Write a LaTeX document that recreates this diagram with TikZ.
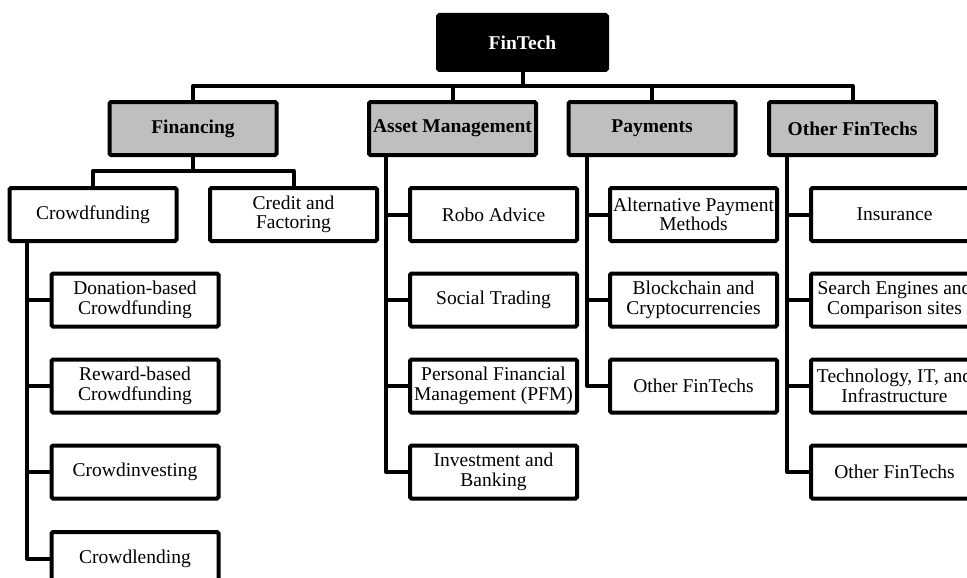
\documentclass[tikz,border=0pt]{standalone}
\usepackage{fontspec}
\setmainfont{Liberation Serif}
\begin{document}
\begin{tikzpicture}[x=1pt,y=-1pt,
  base/.style={draw=black,line width=4pt,rounded corners=1.5pt,inner sep=0pt,
    minimum width=167pt,minimum height=53pt,align=center,
    font=\fontsize{19.5}{19.5}\selectfont},
  topbox/.style={base,fill=black,text=white,minimum width=169pt,minimum height=55pt,
    font=\fontsize{19.5}{19.5}\selectfont\bfseries},
  catbox/.style={base,fill=catgrey,font=\fontsize{19.5}{19.5}\selectfont\bfseries},
  leafbox/.style={base,fill=white},
  conn/.style={draw=black,line width=4pt,line join=round}]
\definecolor{catgrey}{RGB}{191,191,191}
\useasboundingbox (0,0) rectangle (967,578);
\clip (0,0) rectangle (967,578);
% root
\node[topbox] (root) at (522.5,42.5) {FinTech};
% categories
\node[catbox] (fin) at (193,128.5) {Financing};
\node[catbox] (ast) at (452.5,128.5) {Asset Management};
\node[catbox] (pay) at (652,128.5) {Payments};
\node[catbox] (oth) at (852.5,128.5) {Other FinTechs};
% financing
\node[leafbox] (cf) at (93,214.5) {Crowdfunding};
\node[leafbox] (cr) at (293.5,214.5) {Credit and\\Factoring};
\node[leafbox] (don) at (135,300) {Donation-based\\Crowdfunding};
\node[leafbox] (rew) at (135,386) {Reward-based\\Crowdfunding};
\node[leafbox] (cinv) at (135,472) {Crowdinvesting};
\node[leafbox] (clend) at (135,558.5) {Crowdlending};
% asset management
\node[leafbox] (rob) at (493.5,214.5) {Robo Advice};
\node[leafbox] (soc) at (493.5,300) {Social Trading};
\node[leafbox] (pfm) at (493.5,386) {Personal Financial\\Management (PFM)};
\node[leafbox] (inv) at (493.5,472) {Investment and\\Banking};
% payments
\node[leafbox] (alt) at (693.5,214.5) {Alternative Payment\\Methods};
\node[leafbox] (blk) at (693.5,300) {Blockchain and\\Cryptocurrencies};
\node[leafbox] (pot) at (693.5,386) {Other FinTechs};
% other fintechs
\node[leafbox] (ins) at (894.5,214.5) {Insurance};
\node[leafbox] (sea) at (894.5,300) {Search Engines and\\Comparison sites};
\node[leafbox] (tec) at (894.5,386) {Technology, IT, and\\Infrastructure};
\node[leafbox] (ooth) at (894.5,472) {Other FinTechs};
% bus coordinates
\coordinate (bus) at (522.5,86);
\coordinate (finbus) at (193,171);
\coordinate (cftop) at (27,241);
\coordinate (asttop) at (386,155);
\coordinate (paytop) at (587,155);
\coordinate (othtop) at (787,155);
% connectors level 1
\draw[conn] (root.south) -- (bus);
\draw[conn] (fin.north) |- (bus) -| (oth.north);
\draw[conn] (ast.north) -- (ast.north |- bus);
\draw[conn] (pay.north) -- (pay.north |- bus);
% financing
\draw[conn] (fin.south) -- (finbus);
\draw[conn] (cf.north) |- (finbus) -| (cr.north);
% crowdfunding
\draw[conn] (cftop) |- (clend.west);
\draw[conn] (don.west) -- (don.west -| cftop);
\draw[conn] (rew.west) -- (rew.west -| cftop);
\draw[conn] (cinv.west) -- (cinv.west -| cftop);
% asset management
\draw[conn] (asttop) |- (inv.west);
\draw[conn] (rob.west) -- (rob.west -| asttop);
\draw[conn] (soc.west) -- (soc.west -| asttop);
\draw[conn] (pfm.west) -- (pfm.west -| asttop);
% payments
\draw[conn] (paytop) |- (pot.west);
\draw[conn] (alt.west) -- (alt.west -| paytop);
\draw[conn] (blk.west) -- (blk.west -| paytop);
% other
\draw[conn] (othtop) |- (ooth.west);
\draw[conn] (ins.west) -- (ins.west -| othtop);
\draw[conn] (sea.west) -- (sea.west -| othtop);
\draw[conn] (tec.west) -- (tec.west -| othtop);
\end{tikzpicture}
\end{document}
